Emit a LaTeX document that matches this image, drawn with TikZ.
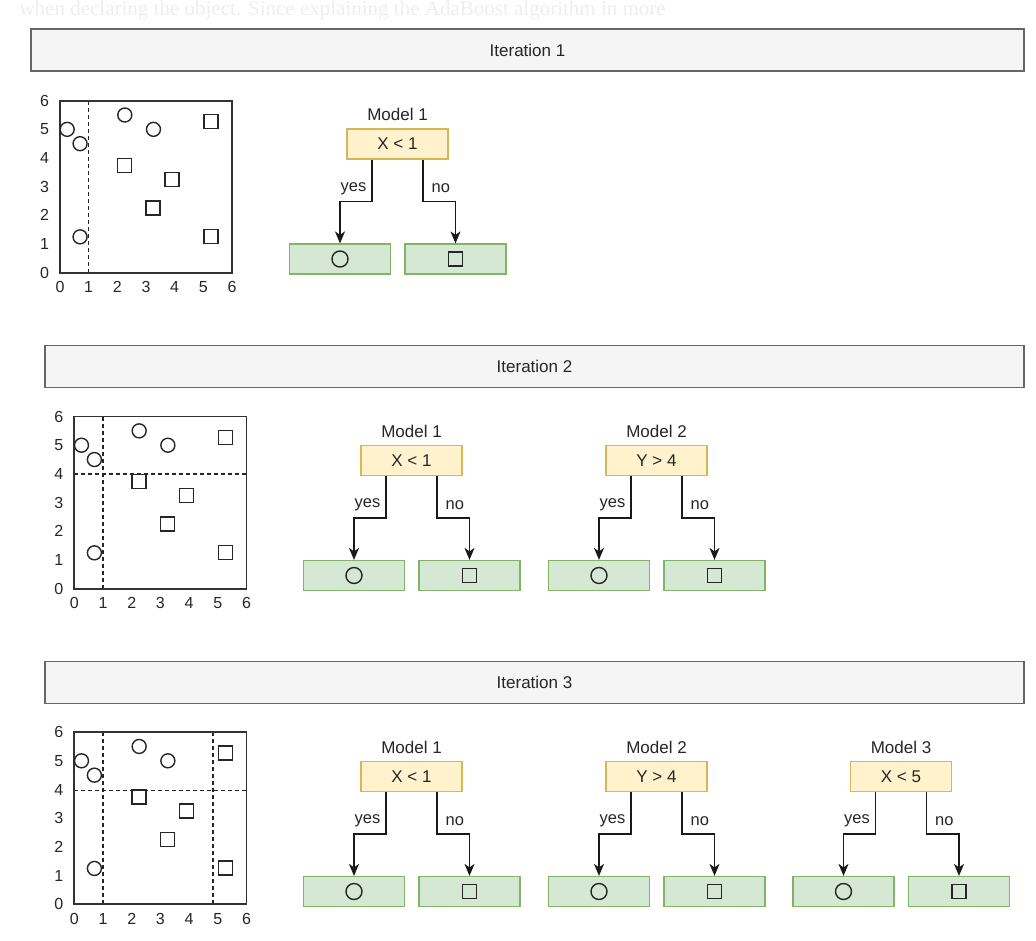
\documentclass[tikz,border=0pt]{standalone}
\usepackage{fontspec}
\setmainfont{Liberation Sans}
\newfontfamily\pageserif{Liberation Serif}
\usepackage{xcolor}
\usepackage{tikz}
\usetikzlibrary{arrows.meta, calc, positioning}

\definecolor{bannerfill}{HTML}{F5F5F5}
\definecolor{bannerline}{HTML}{666666}
\definecolor{testfill}{HTML}{FFF2CC}
\definecolor{testline}{HTML}{D6B656}
\definecolor{leaffill}{HTML}{D5E8D4}
\definecolor{leafline}{HTML}{82B366}
\definecolor{pagetext}{HTML}{EEEEEE}

\begin{document}
\begin{tikzpicture}[
        x=1pt, y=-1pt,
        font=\fontsize{17}{20}\selectfont,
        text=black!85,
        >={Stealth[length=12pt, width=10pt, inset=3.5pt]},
        line width=1.1pt,
        banner/.style={
            draw=bannerline, fill=bannerfill,
            line width=1.4pt,
            minimum height=42pt,
            inner sep=0pt
        },
        testbox/.style={
            draw=testline, fill=testfill,
            line width=1.2pt,
            minimum width=101pt,
            minimum height=30pt,
            inner sep=0pt
        },
        leafbox/.style={
            draw=leafline, fill=leaffill,
            line width=1.2pt,
            minimum width=101pt,
            minimum height=30pt,
            inner sep=0pt
        },
        branch/.style={->, line width=1.4pt, black!90},
        branchlabel/.style={font=\fontsize{16.5}{19}\selectfont, inner sep=0pt},
        tick/.style={font=\fontsize{16}{18}\selectfont, inner sep=0pt},
        frame/.style={draw=black!80, line width=1.8pt},
        split/.style={line width=1.2pt, dash pattern=on 4pt off 3pt, black!85},
        dot/.style={line width=1.4pt, black!85},
    ]

    \fill[white] (0,0) rectangle (1036,940);
    \useasboundingbox (0,0) rectangle (1036,940);

    % faint page text behind the figure
    \node[font=\pageserif\fontsize{21}{24}\selectfont, text=pagetext,
          anchor=base west, inner sep=0pt] (pageline) at (19,15)
          {when declaring the object. Since explaining the AdaBoost algorithm in more};

    %============================================================
    % Iteration banners
    %============================================================
    \node[banner, minimum width=993pt] (iter1) at (527.5,50)  {Iteration 1};
    \node[banner, minimum width=979pt] (iter2) at (534.5,366.5) {Iteration 2};
    \node[banner, minimum width=979pt] (iter3) at (534.5,682.5) {Iteration 3};

    %============================================================
    % Scatter plots
    %============================================================
    \def\drawpoints{%
        \foreach \px/\py in {0.25/5.0, 0.7/4.5, 2.26/5.5, 3.26/5.0, 0.7/1.25}
            \draw[dot] (\px,\py) circle[radius=7pt];
        \foreach \px/\py in {5.26/5.27, 2.26/3.74, 3.9/3.25, 3.24/2.26, 5.26/1.26}
            \draw[dot] (\px,\py) ++(-7pt,-7pt) rectangle ++(14pt,14pt);
    }
    \def\drawaxes#1{%
        \draw[frame] (0,0) rectangle (6,6);
        \foreach \t in {0,...,6}{
            \node[tick, yshift=-14.5pt] (#1-x\t) at (\t,0) {\t};
            \node[tick, xshift=-15.5pt] (#1-y\t) at (0,\t) {\t};
        }
    }

    % plot 1: X < 1
    \begin{scope}[shift={(60,272.7)}, x=28.67pt, y=28.67pt]
        \draw[split] (1,0) -- (1,6);
        \drawaxes{pa}
        \drawpoints
    \end{scope}

    % plot 2: X < 1, Y > 4
    \begin{scope}[shift={(74.3,588.7)}, x=28.7pt, y=28.7pt]
        \draw[split] (1,0) -- (1,6);
        \draw[split] (0,4) -- (6,4);
        \drawaxes{pb}
        \drawpoints
    \end{scope}

    % plot 3: X < 1, Y > 4, X < 5
    \begin{scope}[shift={(74.3,904.3)}, x=28.7pt, y=28.7pt]
        \draw[split] (1,0) -- (1,6);
        \draw[split] (4.83,0) -- (4.83,6);
        \draw[split] (0,3.96) -- (6,3.96);
        \drawaxes{pc}
        \drawpoints
    \end{scope}

    %============================================================
    % Decision stumps
    %============================================================
    \foreach \tid/\cx/\cy/\mname/\test in {
            ta/397.5/144/Model 1/X < 1,
            tb/411.5/460.5/Model 1/X < 1,
            tc/656.5/460.5/Model 2/Y > 4,
            td/411.5/776.5/Model 1/X < 1,
            te/656.5/776.5/Model 2/Y > 4,
            tf/901/776.5/Model 3/X < 5}{
        \node[testbox] (\tid-test) at (\cx,\cy) {\test};
        \node[above=7pt of \tid-test, inner sep=0pt] (\tid-name) {\mname};

        \node[leafbox] (\tid-yes) at (\cx-57.5,\cy+115) {};
        \node[leafbox] (\tid-no)  at (\cx+58,\cy+115) {};
        \draw[dot] (\tid-yes.center) circle[radius=8pt];
        \draw[dot] (\tid-no.center) ++(-7pt,-7pt) rectangle ++(14pt,14pt);

        % Port coordinates
        \coordinate (\tid-l) at ($(\tid-test.south)!0.5!(\tid-test.south west)$);
        \coordinate (\tid-r) at ($(\tid-test.south)!0.5!(\tid-test.south east)$);

        \draw[branch] (\tid-l) |- ($(\tid-l)!0.5!(\tid-yes.north)$) -| (\tid-yes.north);
        \draw[branch] (\tid-r) |- ($(\tid-r)!0.5!(\tid-no.north)$) -| (\tid-no.north);
        \node[branchlabel, anchor=east] (\tid-ylab) at ($(\tid-l)+(-5,29)$) {yes};
        \node[branchlabel, anchor=west] (\tid-nlab) at ($(\tid-r)+(8,29)$) {no};
    }

\end{tikzpicture}
\end{document}
